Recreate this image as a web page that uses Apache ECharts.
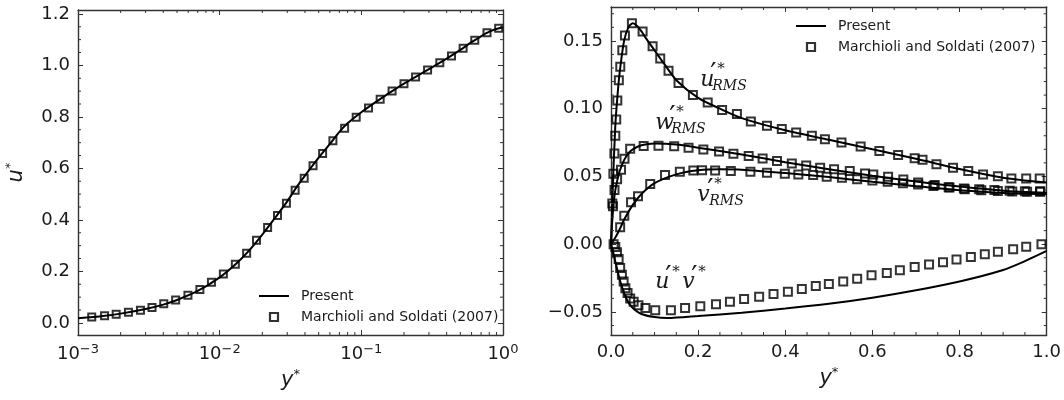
<!DOCTYPE html>
<html>
<head>
<meta charset="utf-8">
<script src="https://cdn.jsdelivr.net/npm/echarts@6/dist/echarts.min.js"></script>
<style>
  html, body { margin: 0; padding: 0; background: #fff; }
  #chart { width: 1064px; height: 400px; }
</style>
</head>
<body>
<div id="chart"></div>
<script>
// ---- Left panel: mean velocity u* against wall distance y* (log axis) ----
const meanLineY = [0.001, 0.0015, 0.002, 0.003, 0.004, 0.005, 0.007, 0.01, 0.013, 0.016, 0.02, 0.025, 0.03, 0.035, 0.04, 0.05, 0.06, 0.07, 0.08, 0.1, 0.13, 0.16, 0.2, 0.25, 0.3, 0.4, 0.5, 0.6, 0.7, 0.8, 0.9, 1.0];
const meanLineU = [0.018, 0.027, 0.036, 0.054, 0.071, 0.089, 0.124, 0.177, 0.229, 0.279, 0.343, 0.413, 0.472, 0.528, 0.572, 0.642, 0.695, 0.742, 0.775, 0.818, 0.862, 0.895, 0.929, 0.960, 0.985, 1.026, 1.060, 1.090, 1.113, 1.131, 1.141, 1.148];
const meanRefY = [0.00125, 0.00154, 0.00186, 0.00227, 0.00276, 0.00333, 0.00403, 0.00489, 0.00597, 0.00725, 0.00875, 0.01062, 0.0129, 0.0155, 0.0182, 0.0218, 0.0256, 0.0296, 0.0341, 0.0395, 0.0456, 0.0533, 0.0630, 0.0762, 0.0920, 0.1124, 0.1358, 0.1648, 0.2000, 0.2415, 0.2935, 0.358, 0.433, 0.523, 0.632, 0.771, 0.932];
const meanRefU = [0.023, 0.028, 0.034, 0.041, 0.049, 0.060, 0.074, 0.089, 0.107, 0.130, 0.158, 0.190, 0.228, 0.270, 0.321, 0.370, 0.417, 0.465, 0.515, 0.562, 0.610, 0.658, 0.707, 0.756, 0.799, 0.834, 0.868, 0.900, 0.929, 0.955, 0.982, 1.010, 1.036, 1.066, 1.098, 1.127, 1.144];

// ---- Right panel: RMS fluctuations and Reynolds stress against y* ----
const uRmsLineY = [0, 0.002, 0.005, 0.01, 0.015, 0.02, 0.03, 0.04, 0.05, 0.06, 0.07, 0.08, 0.1, 0.12, 0.15, 0.2, 0.25, 0.3, 0.4, 0.5, 0.6, 0.7, 0.8, 0.9, 0.95, 1.0];
const uRmsLine  = [0, 0.02, 0.05, 0.088, 0.11, 0.127, 0.150, 0.160, 0.163, 0.161, 0.157, 0.152, 0.143, 0.134, 0.121, 0.108, 0.100, 0.093, 0.084, 0.077, 0.070, 0.063, 0.0555, 0.049, 0.047, 0.0455];
const uRmsRefY = [0.003, 0.0055, 0.0078, 0.0099, 0.012, 0.0145, 0.018, 0.0213, 0.026, 0.032, 0.048, 0.0725, 0.0955, 0.113, 0.132, 0.155, 0.188, 0.222, 0.255, 0.289, 0.321, 0.358, 0.392, 0.425, 0.461, 0.491, 0.529, 0.573, 0.616, 0.659, 0.697, 0.715, 0.747, 0.785, 0.820, 0.854, 0.888, 0.919, 0.953, 0.984];
const uRmsRef  = [0.030, 0.052, 0.067, 0.080, 0.092, 0.106, 0.121, 0.131, 0.143, 0.154, 0.163, 0.157, 0.146, 0.137, 0.128, 0.119, 0.110, 0.1046, 0.099, 0.096, 0.0905, 0.0873, 0.0849, 0.0824, 0.080, 0.0775, 0.075, 0.072, 0.0688, 0.0658, 0.0634, 0.0623, 0.0589, 0.0564, 0.054, 0.0515, 0.0502, 0.0485, 0.0485, 0.0485];

const wRmsLineY = [0, 0.003, 0.007, 0.01, 0.015, 0.02, 0.03, 0.04, 0.05, 0.07, 0.1, 0.15, 0.2, 0.3, 0.4, 0.5, 0.6, 0.7, 0.8, 0.9, 1.0];
const wRmsLine  = [0, 0.018, 0.033, 0.040, 0.048, 0.054, 0.062, 0.067, 0.070, 0.073, 0.0742, 0.0735, 0.0712, 0.0662, 0.0605, 0.0553, 0.0505, 0.0462, 0.0425, 0.0395, 0.038];
const wRmsRefY = [0.0045, 0.008, 0.014, 0.023, 0.031, 0.044, 0.075, 0.109, 0.145, 0.178, 0.212, 0.248, 0.281, 0.316, 0.348, 0.381, 0.415, 0.448, 0.480, 0.512, 0.548, 0.583, 0.602, 0.636, 0.671, 0.705, 0.743, 0.777, 0.812, 0.850, 0.888, 0.921, 0.955, 0.985];
const wRmsRef  = [0.028, 0.040, 0.048, 0.055, 0.063, 0.0705, 0.0725, 0.0727, 0.0722, 0.0712, 0.0698, 0.0683, 0.0668, 0.065, 0.0633, 0.0614, 0.0596, 0.0581, 0.0564, 0.0552, 0.054, 0.0522, 0.0515, 0.0497, 0.0478, 0.0455, 0.0437, 0.0418, 0.0405, 0.0398, 0.0392, 0.0388, 0.0386, 0.0386];

const vRmsLineY = [0, 0.01, 0.02, 0.03, 0.05, 0.07, 0.1, 0.15, 0.2, 0.25, 0.3, 0.4, 0.5, 0.6, 0.7, 0.8, 0.9, 1.0];
const vRmsLine  = [0, 0.005, 0.011, 0.018, 0.029, 0.037, 0.045, 0.0515, 0.0545, 0.0553, 0.055, 0.0525, 0.0495, 0.046, 0.0428, 0.0398, 0.0378, 0.037];
const vRmsRefY = [0.021, 0.0305, 0.046, 0.062, 0.09, 0.124, 0.158, 0.189, 0.209, 0.239, 0.275, 0.320, 0.358, 0.399, 0.430, 0.464, 0.495, 0.530, 0.565, 0.600, 0.635, 0.670, 0.705, 0.740, 0.775, 0.810, 0.845, 0.880, 0.915, 0.950, 0.985];
const vRmsRef  = [0.0125, 0.021, 0.031, 0.0354, 0.0445, 0.051, 0.0534, 0.0544, 0.0546, 0.0544, 0.054, 0.0534, 0.0527, 0.052, 0.0515, 0.051, 0.0497, 0.049, 0.048, 0.047, 0.046, 0.045, 0.044, 0.043, 0.042, 0.041, 0.0405, 0.040, 0.0395, 0.039, 0.039];

const uvLineY = [0, 0.005, 0.01, 0.02, 0.03, 0.04, 0.05, 0.07, 0.1, 0.13, 0.2, 0.3, 0.4, 0.5, 0.6, 0.7, 0.8, 0.9, 0.95, 1.0];
const uvLine  = [0, -0.006, -0.013, -0.026, -0.036, -0.043, -0.047, -0.0515, -0.0538, -0.0545, -0.053, -0.0505, -0.0475, -0.044, -0.0395, -0.034, -0.0275, -0.019, -0.0125, -0.005];
const uvRefY = [0.006, 0.0099, 0.0137, 0.0175, 0.021, 0.025, 0.029, 0.033, 0.038, 0.044, 0.052, 0.063, 0.079, 0.1015, 0.1375, 0.170, 0.205, 0.241, 0.273, 0.3055, 0.340, 0.373, 0.406, 0.438, 0.470, 0.500, 0.533, 0.565, 0.598, 0.633, 0.663, 0.697, 0.730, 0.762, 0.793, 0.826, 0.858, 0.888, 0.923, 0.953, 0.988];
const uvRef  = [0.0, -0.002, -0.006, -0.011, -0.0175, -0.0225, -0.0275, -0.0325, -0.036, -0.040, -0.0425, -0.045, -0.047, -0.0488, -0.0488, -0.047, -0.0458, -0.0443, -0.0425, -0.0405, -0.0388, -0.0368, -0.035, -0.033, -0.0308, -0.0293, -0.0275, -0.0255, -0.023, -0.0213, -0.0193, -0.0168, -0.015, -0.0133, -0.0113, -0.0095, -0.0075, -0.0055, -0.0038, -0.0018, 0.0];

// Curve labels in the right panel, anchored in data coordinates
const curveLabels = [
  { parts: ['u', 'RMS'], at: [0.205, 0.121] },
  { parts: ['w', 'RMS'], at: [0.1015, 0.0895] },
  { parts: ['v', 'RMS'], at: [0.198, 0.036] },
  { parts: ['u', 'v'], at: [0.1015, -0.0284] }
];

const NAME_LINE = 'Present';
const NAME_REF = 'Marchioli and Soldati (2007)';

// Axis ranges
const leftX = [0.001, 1], leftY = [-0.047, 1.215];
const rightX = [0, 1], rightY = [-0.067, 0.175];

const INK = '#1a1a1a', FRAME = '#333';
const FONT = 'DejaVu Sans';

const zip = (a, b) => a.map((v, i) => [v, b[i]]);

// minor tick positions
const leftMinorX = [];
for (let e = -3; e < 0; e++) for (let k = 2; k <= 9; k++) leftMinorX.push(+(k * Math.pow(10, e)).toPrecision(3));
const leftMinorY = [];
for (let i = 1; i <= 24; i++) { if (i % 4 !== 0) leftMinorY.push(+(i * 0.05).toFixed(2)); }
const rightMinorX = [];
for (let i = 1; i < 20; i++) { if (i % 4 !== 0) rightMinorX.push(+(i * 0.05).toFixed(2)); }
const rightMinorY = [];
for (let i = -6; i <= 17; i++) { if (i % 5 !== 0) rightMinorY.push(+(i * 0.01).toFixed(2)); }

function tickData(xs, ys, xr, yr) {
  return xs.map(v => [v, yr[0], 0, yr[1]]).concat(ys.map(v => [xr[0], v, 1, xr[1]]));
}
function tickRenderer(len) {
  return function (params, api) {
    const kind = api.value(2);
    const a = api.coord([api.value(0), api.value(1)]);
    const b = kind === 0 ? api.coord([api.value(0), api.value(3)]) : api.coord([api.value(3), api.value(1)]);
    const style = { stroke: FRAME, lineWidth: 1 };
    if (kind === 0) {
      return { type: 'group', children: [
        { type: 'line', shape: { x1: a[0], y1: a[1], x2: a[0], y2: a[1] - len }, style },
        { type: 'line', shape: { x1: b[0], y1: b[1], x2: b[0], y2: b[1] + len }, style }
      ] };
    }
    return { type: 'group', children: [
      { type: 'line', shape: { x1: a[0], y1: a[1], x2: a[0] + len, y2: a[1] }, style },
      { type: 'line', shape: { x1: b[0], y1: b[1], x2: b[0] - len, y2: b[1] }, style }
    ] };
  };
}

const axisLine = { show: true, onZero: false, lineStyle: { color: FRAME, width: 1.4 } };
const majorTick = { show: true, inside: true, length: 5, lineStyle: { color: FRAME, width: 1 } };
const labelStyle = { color: INK, fontSize: 18, fontFamily: FONT, margin: 8 };
const nameRich = {
  i: { fontSize: 21, fontStyle: 'italic', fontFamily: FONT, color: INK, lineHeight: 26 },
  s: { fontSize: 13, fontFamily: FONT, color: INK, verticalAlign: 'top', lineHeight: 13 }
};

function fmtSigned(v, d) {
  return (v < 0 ? '\u2212' : '') + Math.abs(v).toFixed(d);
}

const lineStyle = { color: '#000', width: 2 };
const refStyle = { color: 'rgba(0,0,0,0)', borderColor: '#000', borderWidth: 2 };

function curve(name, xs, ys, xi, yi) {
  return { name: NAME_LINE, type: 'line', xAxisIndex: xi, yAxisIndex: yi, data: zip(xs, ys),
    showSymbol: false, symbol: 'none', smooth: 0.25, lineStyle, itemStyle: { color: '#000' },
    z: 2, silent: true, id: name };
}
function refs(name, xs, ys, xi, yi, size) {
  return { name: NAME_REF, type: 'scatter', xAxisIndex: xi, yAxisIndex: yi, data: zip(xs, ys),
    symbol: 'rect', symbolSize: size, itemStyle: refStyle, z: 3, silent: true, id: name };
}

// legend entries: a short black bar for the curve, an open square for the reference data
const legendItems = [
  { name: NAME_LINE, icon: 'path://M0,0H30V2H0Z', itemStyle: { color: '#000', borderWidth: 0 } },
  { name: NAME_REF, icon: 'path://M0,0H10V10H0Z', itemStyle: { color: 'rgba(0,0,0,0)', borderColor: '#000', borderWidth: 2.2 } }
];
const legendBase = {
  orient: 'vertical', itemWidth: 30, itemHeight: 8, itemGap: 7, selectedMode: false,
  data: legendItems,
  textStyle: { fontSize: 14, fontFamily: FONT, color: INK, padding: [0, 0, 0, 7] }
};

const option = {
  animation: false,
  backgroundColor: '#fff',
  grid: [
    { left: 78, top: 10, width: 425, height: 325 },
    { left: 611, top: 7, width: 436, height: 328 }
  ],
  legend: [
    Object.assign({ left: 254, top: 284 }, legendBase),
    Object.assign({ left: 791, top: 14 }, legendBase)
  ],
  xAxis: [
    { gridIndex: 0, type: 'log', logBase: 10, min: leftX[0], max: leftX[1], position: 'bottom',
      axisLine, axisTick: majorTick, splitLine: { show: false },
      name: '{i|y}{s|*}', nameLocation: 'middle', nameGap: 31, nameTextStyle: { rich: nameRich },
      axisLabel: Object.assign({}, labelStyle, {
        formatter: v => {
          const e = Math.round(Math.log10(v));
          return '{b|10}{e|' + (e < 0 ? '\u2212' + (-e) : e) + '}';
        },
        rich: {
          b: { fontSize: 18, fontFamily: FONT, color: INK, lineHeight: 22 },
          e: { fontSize: 13, fontFamily: FONT, color: INK, verticalAlign: 'top', lineHeight: 14 }
        }
      }) },
    { gridIndex: 0, type: 'log', logBase: 10, min: leftX[0], max: leftX[1], position: 'top',
      axisLine, axisTick: majorTick, axisLabel: { show: false }, splitLine: { show: false } },
    { gridIndex: 1, type: 'value', min: rightX[0], max: rightX[1], interval: 0.2, position: 'bottom',
      axisLine, axisTick: majorTick, splitLine: { show: false },
      name: '{i|y}{s|*}', nameLocation: 'middle', nameGap: 31, nameTextStyle: { rich: nameRich },
      axisLabel: Object.assign({}, labelStyle, { formatter: v => fmtSigned(v, 1) }) },
    { gridIndex: 1, type: 'value', min: rightX[0], max: rightX[1], interval: 0.2, position: 'top',
      axisLine, axisTick: majorTick, axisLabel: { show: false }, splitLine: { show: false } }
  ],
  yAxis: [
    { gridIndex: 0, type: 'value', min: leftY[0], max: leftY[1], splitNumber: 6, position: 'left',
      axisLine, axisTick: majorTick, splitLine: { show: false },
      name: '{i|u}{s|*}', nameLocation: 'middle', nameRotate: 90, nameGap: 48, nameTextStyle: { rich: nameRich },
      axisLabel: Object.assign({}, labelStyle, { showMinLabel: false, showMaxLabel: false, formatter: v => fmtSigned(v, 1) }) },
    { gridIndex: 0, type: 'value', min: leftY[0], max: leftY[1], splitNumber: 6, position: 'right',
      axisLine, axisTick: majorTick, axisLabel: { show: false }, splitLine: { show: false } },
    { gridIndex: 1, type: 'value', min: rightY[0], max: rightY[1], splitNumber: 5, position: 'left',
      axisLine, axisTick: majorTick, splitLine: { show: false },
      axisLabel: Object.assign({}, labelStyle, { showMinLabel: false, showMaxLabel: false, formatter: v => fmtSigned(v, 2) }) },
    { gridIndex: 1, type: 'value', min: rightY[0], max: rightY[1], splitNumber: 5, position: 'right',
      axisLine, axisTick: majorTick, axisLabel: { show: false }, splitLine: { show: false } }
  ],
  series: [
    curve('meanLine', meanLineY, meanLineU, 0, 0),
    refs('meanRef', meanRefY, meanRefU, 0, 0, 7),
    curve('uRmsLine', uRmsLineY, uRmsLine, 2, 2),
    curve('wRmsLine', wRmsLineY, wRmsLine, 2, 2),
    curve('vRmsLine', vRmsLineY, vRmsLine, 2, 2),
    curve('uvLine', uvLineY, uvLine, 2, 2),
    refs('uRmsRef', uRmsRefY, uRmsRef, 2, 2, 8),
    refs('wRmsRef', wRmsRefY, wRmsRef, 2, 2, 8),
    refs('vRmsRef', vRmsRefY, vRmsRef, 2, 2, 8),
    refs('uvRef', uvRefY, uvRef, 2, 2, 8),
    { type: 'custom', xAxisIndex: 0, yAxisIndex: 0, silent: true, z: 5,
      encode: { x: 0, y: 1 }, data: tickData(leftMinorX, leftMinorY, leftX, leftY), renderItem: tickRenderer(3) },
    { type: 'custom', xAxisIndex: 2, yAxisIndex: 2, silent: true, z: 5,
      encode: { x: 0, y: 1 }, data: tickData(rightMinorX, rightMinorY, rightX, rightY), renderItem: tickRenderer(3) }
  ]
};

const chart = echarts.init(document.getElementById('chart'), null, { renderer: 'canvas' });
chart.setOption(option);

// Curve labels: italic serif letter, prime, star superscript and RMS subscript
function labelGraphics() {
  const serif = '"DejaVu Serif", serif';
  const txt = (s, x, y, font) => ({
    type: 'text', x, y, silent: true,
    style: { text: s, font, fill: INK, align: 'left', verticalAlign: 'middle' }
  });
  const big = 'italic 22px ' + serif;
  const small = 'italic 15px ' + serif;
  const sub = 'italic 14px ' + serif;
  const primeFont = '28px "DejaVu Sans"';
  // letter followed by a prime and a raised star
  const primed = (ch, x0, w) => [
    txt(ch, x0, 0, big),
    txt('\u2032', x0 + w - 2, -4, primeFont),
    txt('*', x0 + w + 5, -11, small)
  ];
  return curveLabels.map(lab => {
    const p = chart.convertToPixel({ gridIndex: 1 }, lab.at);
    let children;
    if (lab.parts[1] === 'RMS') {
      const w = lab.parts[0] === 'w' ? 16 : 12;
      children = primed(lab.parts[0], 0, w).concat([txt('RMS', w, 6, sub)]);
    } else {
      children = primed('u', 0, 12).concat(primed('v', 27, 11));
    }
    return { type: 'group', x: p[0], y: p[1], children };
  });
}
chart.setOption({ graphic: labelGraphics() });
</script>
</body>
</html>
